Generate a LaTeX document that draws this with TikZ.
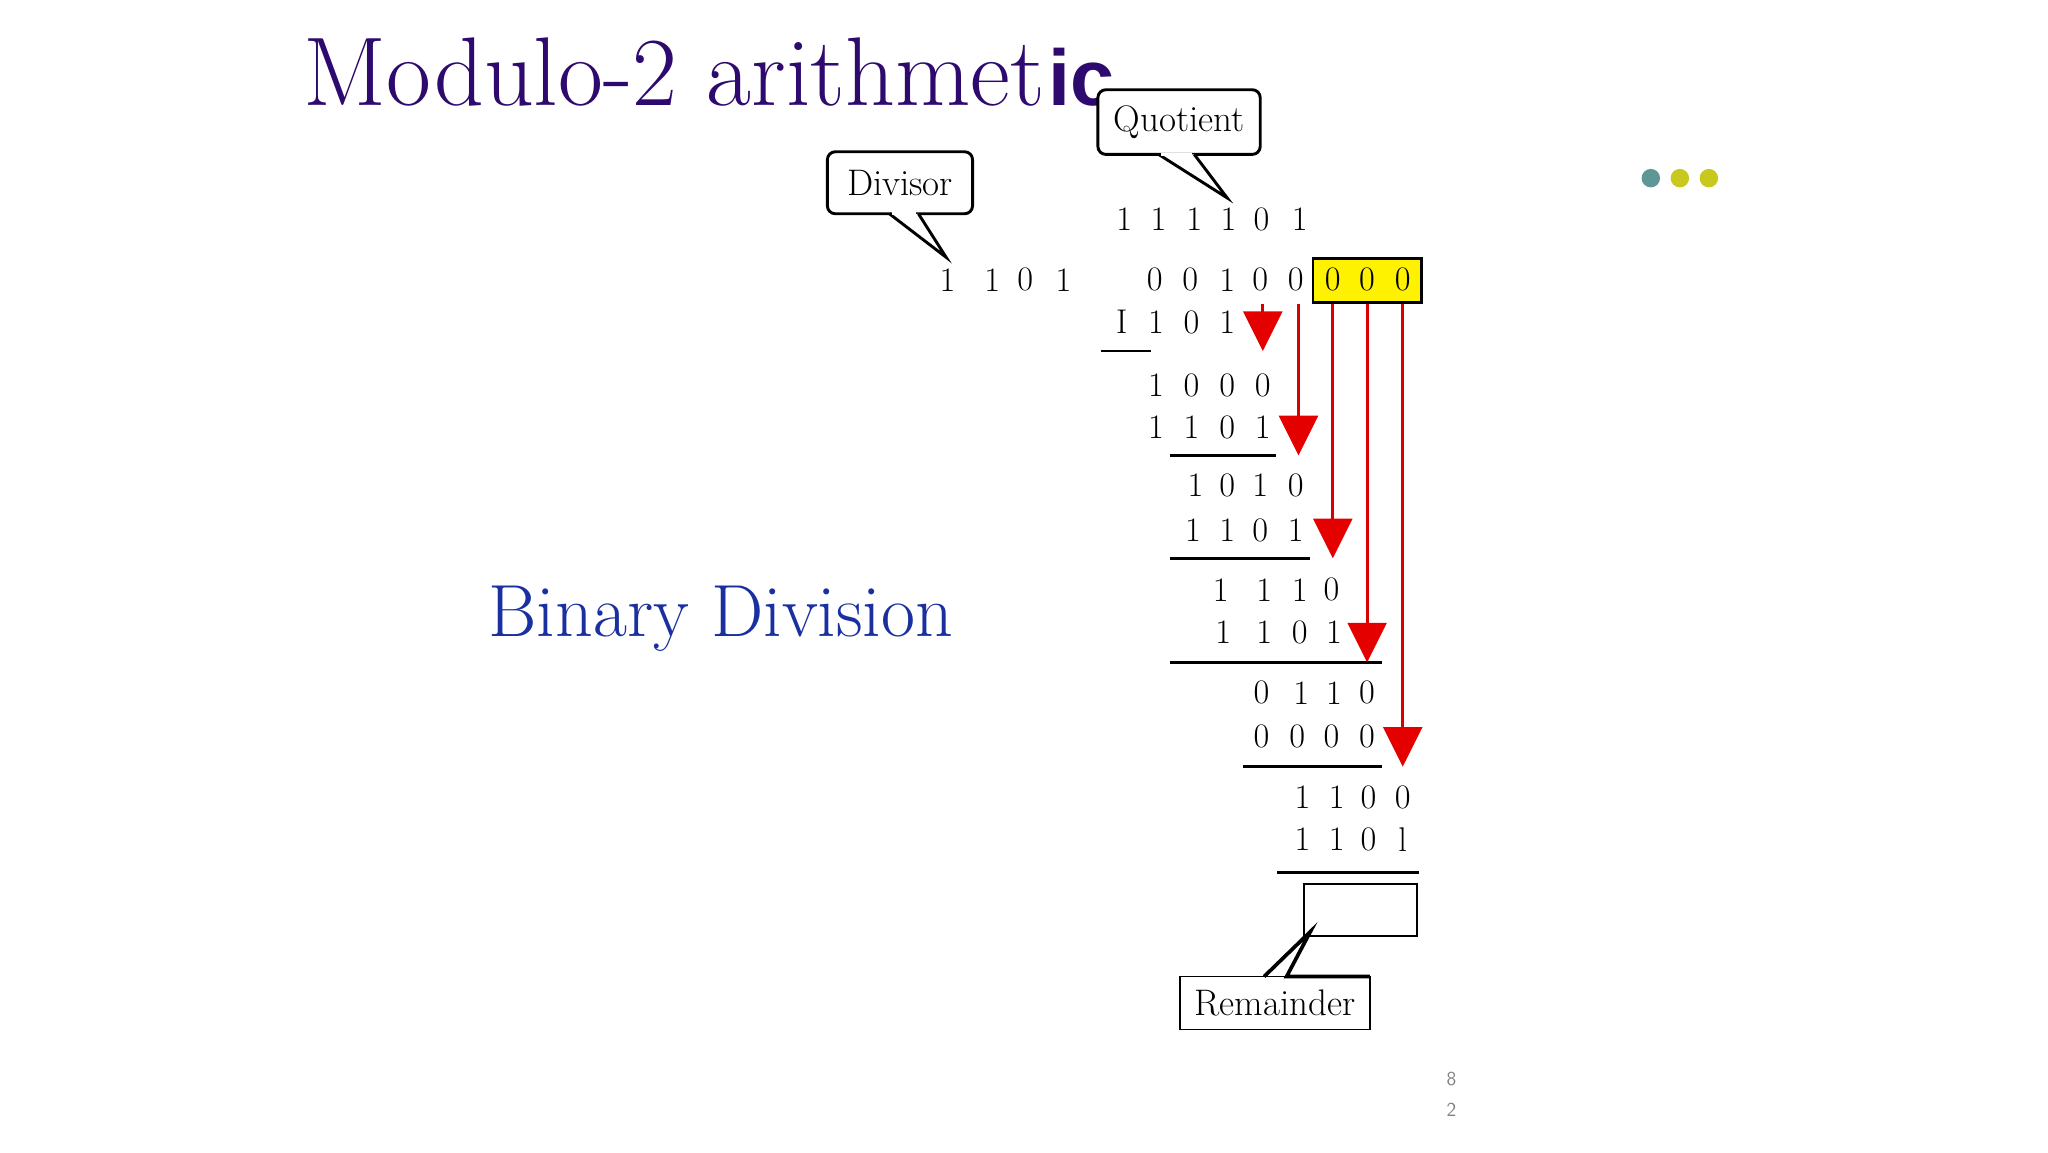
\documentclass[tikz,border=0pt]{standalone}
\usepackage{fontspec}
\newfontfamily\sansb{Liberation Sans}
\begin{document}
\begin{tikzpicture}[x=1pt,y=-1pt,
  dig/.style={inner sep=0pt,font=\fontsize{26}{26}\selectfont},
  bub/.style={draw,line width=2.2pt,rounded corners=6pt,fill=white},
  rline/.style={draw=red!85!black,line width=2.2pt},
  rtri/.style={fill=red!90!black},
  rule/.style={line width=2.2pt}]
\useasboundingbox (0,0) rectangle (1552,873);
\definecolor{titlec}{HTML}{2E0A6E}
\definecolor{bluec}{HTML}{1A2FA0}
% title
\node[anchor=base west,inner sep=0pt,text=titlec,font=\fontsize{74}{74}\selectfont] (title) at (230,80) {Modulo-2 arithmet};
\node[anchor=base west,inner sep=0pt,text=titlec,font=\sansb\bfseries\fontsize{60}{60}\selectfont] (ic) at (794,80) {ic};
% dots
\fill[color={rgb,255:red,95;green,150;blue,150}] (1251,135) circle (7);
\fill[color={rgb,255:red,200;green,200;blue,30}] (1273,135) circle (7);
\fill[color={rgb,255:red,200;green,200;blue,30}] (1295,135) circle (7);
% binary division
\node[anchor=base west,inner sep=0pt,text=bluec,font=\fontsize{56}{56}\selectfont] (bd) at (370,482) {Binary Division};
% bubbles
\node[bub,minimum width=110,minimum height=47,font=\fontsize{28}{28}\selectfont] (div) at (682,138.5) {Divisor};
\draw[line width=2.2pt,line join=miter,fill=white] (674,162) -- (717,195) -- (696,162);
\draw[white,line width=2.6pt] (676,162) -- (694,162);
\node[bub,minimum width=123,minimum height=49,font=\fontsize{28}{28}\selectfont] (quo) at (893.5,92.5) {Quotient};
\draw[line width=2.2pt,line join=miter,fill=white] (878,117) -- (930,150) -- (905,117);
\draw[white,line width=2.6pt] (880,117) -- (903,117);
% yellow box
\node[draw,line width=2.2pt,fill=yellow,minimum width=82,minimum height=33,inner sep=0pt] (ybox) at (1036,212.5) {};
% digits
\foreach \r/\y/\list in {
  q/166/{852/1,878/1,905/1,931/1,956/0,985/1},
  dv/212/{718/1,752/1,777/0,806/1},
  dd/212/{875/0,902/0,930/1,955/0,982/0,1010/0,1036/0,1063/0},
  a/244/{850/I,876/1,903/0,930/1},
  b/292/{876/1,903/0,930/0,957/0},
  c/324/{876/1,903/1,930/0,957/1},
  d/368/{906/1,930/0,955/1,982/0},
  e/402/{904/1,930/1,955/0,982/1},
  f/447/{925/1,958/1,985/1,1009/0},
  g/479/{927/1,958/1,985/0,1011/1},
  h/525/{956/0,986/1,1011/1,1036/0},
  i/558/{956/0,983/0,1009/0,1036/0},
  j/604/{987/1,1013/1,1037/0,1063/0},
  k/636/{987/1,1013/1,1037/0,1063/l}}{
  \foreach \xx/\t [count=\n] in \list {
    \node[dig] (\r\n) at (\xx,\y) {\t};
  }
}
% rules
\draw[rule] (834,266) -- (872,266);
\draw[rule] (887,345) -- (967,345);
\draw[rule] (887,423) -- (993,423);
\draw[rule] (887,502) -- (1047,502);
\draw[rule] (942,581) -- (1047,581);
\draw[rule] (968,661) -- (1075,661);
% red arrows
\foreach \xx/\ty in {957/266,984/345,1010/423,1036/502,1063/581}{
  \draw[rline] (\xx,230) -- (\xx,\ty-28);
  \fill[rtri] (\xx-15,\ty-30) -- (\xx+15,\ty-30) -- (\xx,\ty) -- cycle;
}
% remainder
\node[draw,line width=1.5pt,minimum width=86,minimum height=39,inner sep=0pt] (rbox) at (1031,689.5) {};
\node[draw,line width=1.2pt,minimum width=144,minimum height=40,inner sep=0pt,font=\fontsize{28}{28}\selectfont] (rem) at (966,760) {Remainder};
\coordinate (rt) at (993,706);
\draw[line width=2.8pt] (958,740) -- (rt) -- (975,740) -- (1038,740);
% page number
\node[text=gray,font=\sffamily\fontsize{15}{15}\selectfont,inner sep=0pt] (p1) at (1100,818) {8};
\node[text=gray,font=\sffamily\fontsize{15}{15}\selectfont,inner sep=0pt] (p2) at (1100,841) {2};
\end{tikzpicture}
\end{document}
